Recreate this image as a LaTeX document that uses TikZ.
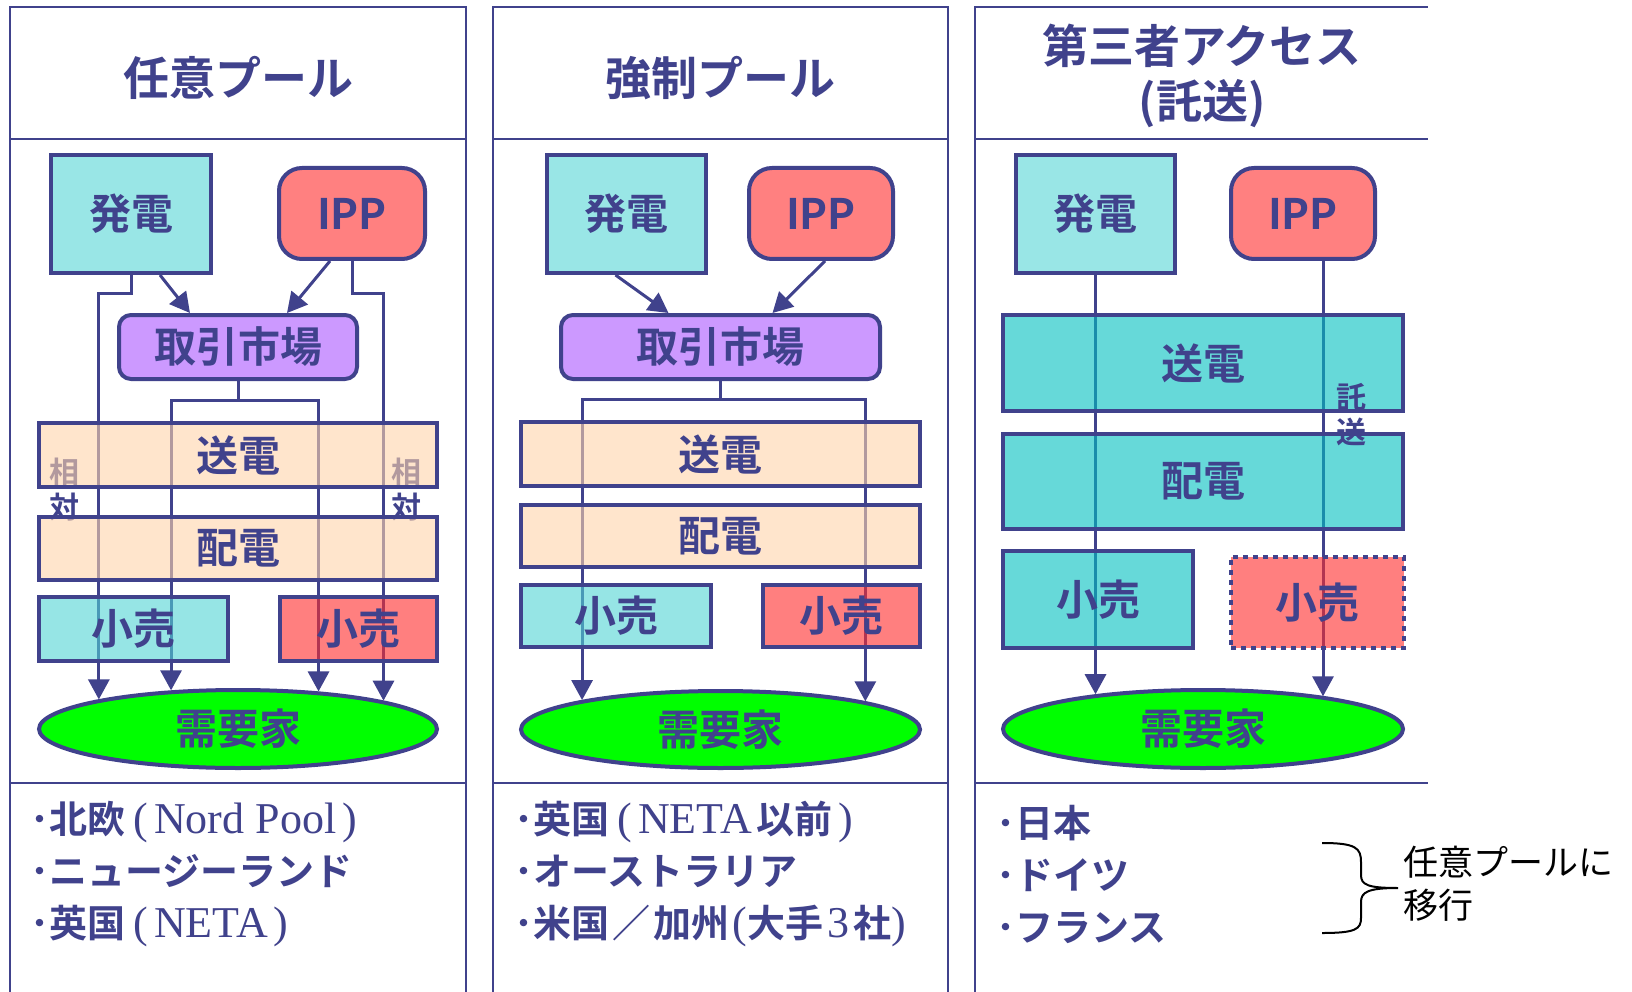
\documentclass[tikz,border=0pt]{standalone}
\usepackage{fontspec}
\setmainfont{Noto Sans CJK JP}[BoldFont={Noto Sans CJK JP Bold}]
\newfontfamily\latinserif{Liberation Serif}
\usetikzlibrary{arrows.meta,shapes.geometric}

\definecolor{ink}{RGB}{64,66,140}
\definecolor{gencol}{RGB}{153,230,230}
\definecolor{ippcol}{RGB}{255,128,128}
\definecolor{mktcol}{RGB}{204,153,255}
\definecolor{demcol}{RGB}{0,255,0}
\definecolor{gridcol}{RGB}{255,212,170}
\definecolor{retcol}{RGB}{80,212,212}
\definecolor{netcol}{RGB}{0,192,192}
\definecolor{redcol}{RGB}{255,43,43}

\newcommand{\romtxt}[1]{{\latinserif\mdseries\fontsize{44}{52}\selectfont #1}}
\newcommand{\lpar}{\hspace{8pt}\romtxt{(}\hspace{6pt}}
\newcommand{\rpar}{\hspace{6pt}\romtxt{)}}

\tikzset{
  box/.style={draw=ink, line width=4pt, inner sep=0pt, text=ink,
    font=\bfseries\fontsize{42}{46}\selectfont},
  layer/.style={box, fill opacity=0.6, text opacity=1},
  rbox/.style={box, rounded corners=#1},
  feed/.style={draw=ink, line width=3pt, -{Triangle[length=20pt,width=21pt]}},
  frame/.style={draw=ink, line width=2pt},
  title/.style={text=ink, align=center, font=\bfseries\fontsize{46}{55}\selectfont},
  vlabel/.style={text=ink, align=center, font=\bfseries\fontsize{30}{35}\selectfont},
  list/.style={text=ink, anchor=west, align=left, font=\bfseries\fontsize{38}{52}\selectfont},
}

\begin{document}
\begin{tikzpicture}[x=1pt,y=-1pt]
  \fill[white] (0,0) rectangle (1632,992);
  \useasboundingbox (0,0) rectangle (1632,992);

  % frames
  \draw[frame] (10,992) -- (10,7) -- (466,7) -- (466,992);
  \draw[frame] (10,139) -- (466,139) (10,783) -- (466,783);
  \draw[frame] (493,992) -- (493,7) -- (948,7) -- (948,992);
  \draw[frame] (493,139) -- (948,139) (493,783) -- (948,783);
  \draw[frame] (975,992) -- (975,7) -- (1428,7);
  \draw[frame] (975,139) -- (1428,139) (975,783) -- (1428,783);

  \node[title] (t1) at (238,78) {任意プール};
  \node[title] (t2) at (720,78) {強制プール};
  \node[title] (t3) at (1202,76) {第三者アクセス\\(託送)};

  % panel 1
  \node[box, fill=gencol, minimum width=160pt, minimum height=118pt] (gen1) at (131,214) {発電};
  \node[rbox=23pt, fill=ippcol, minimum width=146pt, minimum height=91pt] (ipp1) at (352,213.5) {IPP};
  \node[rbox=12pt, fill=mktcol, minimum width=238pt, minimum height=64pt] (mkt1) at (238,347) {取引市場};
  \node[box, ellipse, fill=demcol, minimum width=398pt, minimum height=78pt] (dem1) at (238,729) {需要家};

  \draw[feed] ([xshift=29pt]gen1.south) -- ([xshift=-48pt]mkt1.north);
  \draw[feed] ([xshift=-22pt]ipp1.south) -- ([xshift=49pt]mkt1.north);
  \draw[feed] (gen1.south) -- ++(0,18) -| (dem1.168.5);
  \draw[feed] (ipp1.south) -- ++(0,32) -| (dem1.11.5);
  \draw[feed] (mkt1.south) -- ++(0,19) -| (dem1.150);
  \draw[feed] (mkt1.south) -- ++(0,19) -| (dem1.25.2);

  \node[vlabel] (rel1) at (64,490) {相\\対};
  \node[vlabel] (rel2) at (406,490) {相\\対};

  \node[layer, fill=gridcol, minimum width=398pt, minimum height=64pt] (tx1) at (238,455) {送電};
  \node[layer, fill=gridcol, minimum width=398pt, minimum height=63pt] (dx1) at (238,548.5) {配電};
  \node[layer, fill=retcol, minimum width=189pt, minimum height=64pt] (rta1) at (133.5,629) {小売};
  \node[layer, fill=redcol, minimum width=157pt, minimum height=64pt] (rtb1) at (358.5,629) {小売};

  % panel 2
  \node[box, fill=gencol, minimum width=159pt, minimum height=118pt] (gen2) at (626.5,214) {発電};
  \node[rbox=23pt, fill=ippcol, minimum width=144pt, minimum height=91pt] (ipp2) at (821,213.5) {IPP};
  \node[rbox=12pt, fill=mktcol, minimum width=319pt, minimum height=64pt] (mkt2) at (720.5,347) {取引市場};
  \node[box, ellipse, fill=demcol, minimum width=399pt, minimum height=77pt] (dem2) at (720.5,729.5) {需要家};

  \draw[feed] ([xshift=-11pt]gen2.south) -- ([xshift=-52pt]mkt2.north);
  \draw[feed] ([xshift=4pt]ipp2.south) -- ([xshift=52pt]mkt2.north);
  \draw[feed] (mkt2.south) -- ++(0,18) -| (dem2.168.5);
  \draw[feed] (mkt2.south) -- ++(0,18) -| (dem2.11.5);

  \node[layer, fill=gridcol, minimum width=399pt, minimum height=64pt] (tx2) at (720.5,454) {送電};
  \node[layer, fill=gridcol, minimum width=399pt, minimum height=62pt] (dx2) at (720.5,536) {配電};
  \node[layer, fill=retcol, minimum width=190pt, minimum height=62pt] (rta2) at (616,616) {小売};
  \node[layer, fill=redcol, minimum width=157pt, minimum height=62pt] (rtb2) at (841.5,616) {小売};

  % panel 3
  \node[box, fill=gencol, minimum width=159pt, minimum height=118pt] (gen3) at (1095.5,214) {発電};
  \node[rbox=23pt, fill=ippcol, minimum width=144pt, minimum height=91pt] (ipp3) at (1303,213.5) {IPP};
  \node[box, ellipse, fill=demcol, minimum width=400pt, minimum height=78pt] (dem3) at (1203,729) {需要家};

  \coordinate (wheel) at ([xshift=20pt]ipp3.south);
  \draw[feed] (gen3.south) -- (gen3.south |- dem3.162.2);
  \draw[feed] (wheel) -- (wheel |- dem3.15.4);

  \node[layer, fill=netcol, minimum width=400pt, minimum height=96pt] (tx3) at (1203,363) {送電};
  \node[layer, fill=netcol, minimum width=400pt, minimum height=95pt] (dx3) at (1203,481.5) {配電};
  \node[layer, fill=netcol, minimum width=190pt, minimum height=97pt] (rta3) at (1098,599.5) {小売};
  \node[layer, fill=redcol, dash pattern=on 5pt off 5pt, minimum width=173pt, minimum height=91pt] (rtb3) at (1317.5,602.5) {小売};
  \node[vlabel] (wh) at (1351,415) {託\\送};

  % lists
  \node[list] (l1) at (27,874) {･北欧\lpar\romtxt{Nord Pool}\rpar\\･ニュージーランド\\･英国\lpar\romtxt{NETA}\rpar};
  \node[list] (l2) at (511,874) {･英国\lpar\romtxt{NETA}\hspace{5pt}以前\rpar\\･オーストラリア\\･米国\hspace{3pt}／\hspace{3pt}加州\romtxt{\hspace{3pt}(}大手\romtxt{\hspace{4pt}3\hspace{4pt}}社\romtxt{)}};
  \node[list] (l3) at (993,874) {･日本\\･ドイツ\\･フランス};

  \draw[line width=2pt] (1322,843) .. controls (1356,843) and (1361,848) .. (1361,862)
    -- (1361,875) .. controls (1361,885) and (1368,888) .. (1398,888)
    .. controls (1368,888) and (1361,892) .. (1361,902)
    -- (1361,918) .. controls (1361,929) and (1356,933) .. (1322,933);
  \node[anchor=west, align=left, font=\fontsize{35}{43}\selectfont] (move) at (1400,884) {任意プールに\\移行};
\end{tikzpicture}
\end{document}
